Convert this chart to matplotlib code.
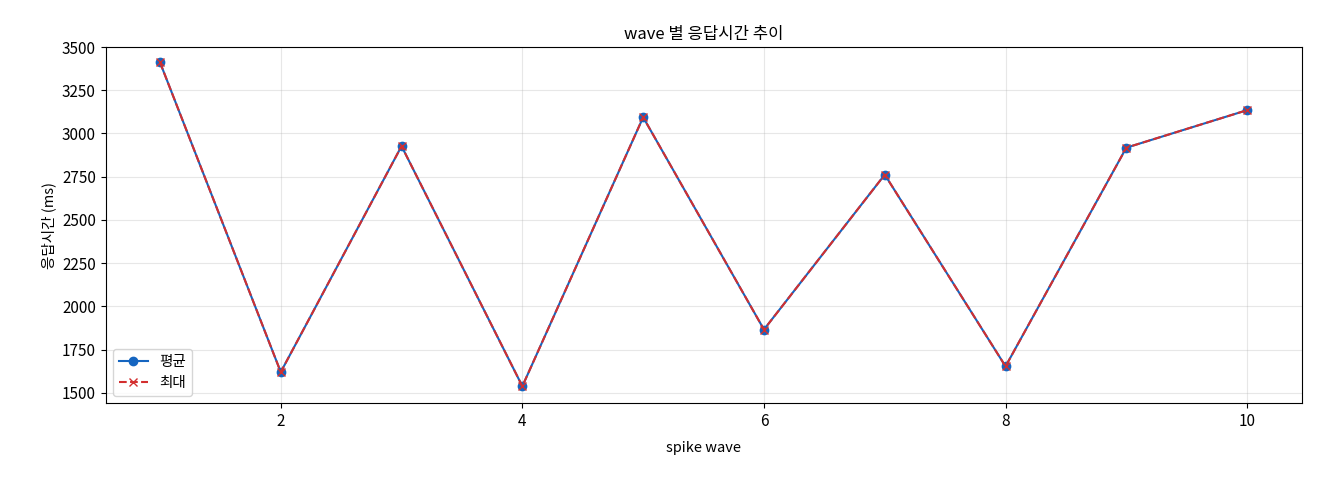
import matplotlib
matplotlib.use("Agg")
import matplotlib.pyplot as plt

plt.rcParams['font.family'] = ['Noto Sans CJK KR', 'DejaVu Sans']
plt.rcParams['axes.unicode_minus'] = False

waves = [1, 2, 3, 4, 5, 6, 7, 8, 9, 10]
avg_ms = [3412, 1620, 2927, 1538, 3094, 1866, 2762, 1653, 2918, 3135]
max_ms = [3412, 1620, 2927, 1538, 3094, 1866, 2762, 1653, 2918, 3135]

fig, ax = plt.subplots(figsize=(13.2, 4.8), dpi=100)
fig.subplots_adjust(left=0.08, right=0.986, top=0.902, bottom=0.16)
ax.plot(waves, avg_ms, marker='o', color='#1565c0', label='평균', markersize=6)
ax.plot(waves, max_ms, marker='x', linestyle='--', color='#d32f2f', label='최대', markersize=6)
ax.set_title('wave 별 응답시간 추이', fontsize=12)
ax.set_xlabel('spike wave', fontsize=10.5, labelpad=8)
ax.set_ylabel('응답시간 (ms)', fontsize=10.5)
ax.set_ylim(1440, 3500)
ax.set_yticks(range(1500, 3501, 250))
ax.tick_params(labelsize=11)
ax.grid(True, alpha=0.3)
ax.legend(loc='lower left', fontsize=10.5)
fig.savefig('out.png')
